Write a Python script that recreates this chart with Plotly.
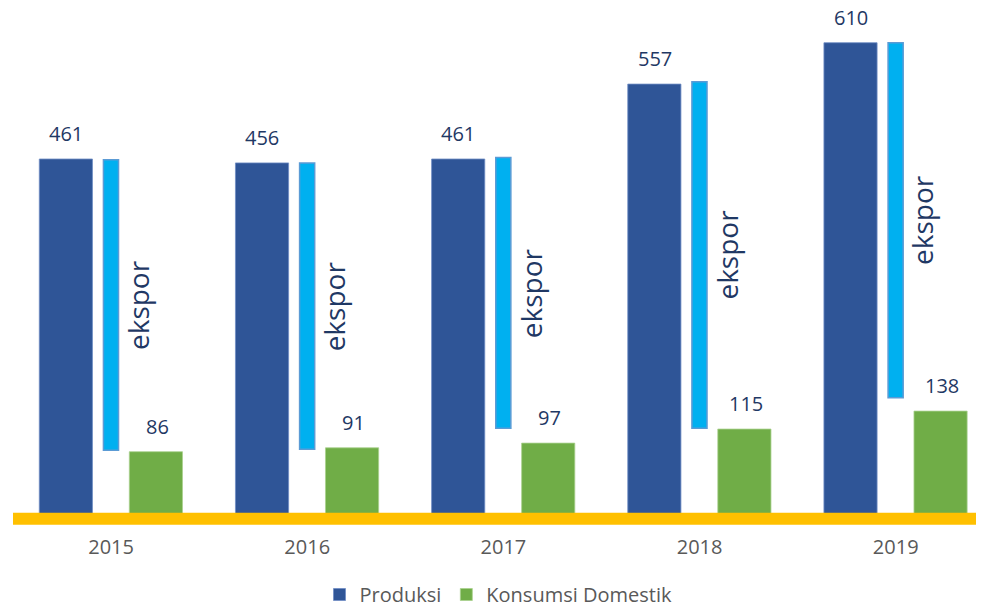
import plotly.graph_objects as go

years = ["2015", "2016", "2017", "2018", "2019"]
produksi = [461, 456, 461, 557, 610]
konsumsi = [86, 91, 97, 115, 138]
ekspor_bottom = [88, 89, 116, 116, 155]
ekspor_top = [460, 456, 463, 560, 610]

C_PROD = "#2F5597"
C_KONS = "#70AD47"
C_EKS = "#00B0F0"
C_LBL = "#1F3864"
C_AX = "#595959"
FONT = "Open Sans"

idx = list(range(len(years)))

fig = go.Figure()
fig.add_trace(go.Bar(
    x=idx, y=produksi, name="Produksi",
    marker=dict(color=C_PROD, line=dict(color="#6F8DC4", width=0.8)),
    width=0.271, offset=-0.366, hoverinfo="skip",
))
fig.add_trace(go.Bar(
    x=idx, y=[t - b for t, b in zip(ekspor_top, ekspor_bottom)], base=ekspor_bottom,
    name="ekspor", showlegend=False,
    marker=dict(color=C_EKS, line=dict(color="#5B9BD5", width=1.5)),
    width=0.077, offset=-0.039, hoverinfo="skip",
))
fig.add_trace(go.Bar(
    x=idx, y=konsumsi, name="Konsumsi Domestik",
    marker=dict(color=C_KONS, line=dict(color="#A9D18E", width=0.8)),
    width=0.271, offset=0.093, hoverinfo="skip",
))

ann = []
for i in idx:
    ann.append(dict(x=i, y=produksi[i], text=str(produksi[i]), showarrow=False,
                    xshift=-45, yshift=10, yanchor="bottom",
                    font=dict(family=FONT, size=20, color=C_LBL)))
    ann.append(dict(x=i, y=konsumsi[i], text=str(konsumsi[i]), showarrow=False,
                    xshift=46, yshift=10, yanchor="bottom",
                    font=dict(family=FONT, size=20, color=C_LBL)))
    ann.append(dict(x=i, y=(ekspor_top[i] + ekspor_bottom[i]) / 2, text="ekspor",
                    showarrow=False, textangle=-90, xshift=27,
                    font=dict(family=FONT, size=28, color=C_LBL)))

Y_TOP = 639.1
Y_BOT = -121.95
zero_frac = (0 - Y_BOT) / (Y_TOP - Y_BOT)

fig.update_layout(
    width=976, height=606,
    margin=dict(l=5, r=0, t=12, b=0),
    barmode="overlay",
    plot_bgcolor="white", paper_bgcolor="white",
    showlegend=True,
    legend=dict(orientation="h", x=0.5, xanchor="center", y=0, yanchor="bottom",
                font=dict(family=FONT, size=20, color=C_AX), traceorder="normal",
                bgcolor="rgba(0,0,0,0)"),
    xaxis=dict(range=[-0.5, 4.45], showgrid=False, zeroline=False,
               anchor="free", position=zero_frac,
               tickmode="array", tickvals=idx, ticktext=years,
               showline=False, ticks="", ticklabelstandoff=14,
               tickfont=dict(family=FONT, size=20, color=C_AX)),
    yaxis=dict(range=[Y_BOT, Y_TOP], visible=False, showgrid=False, zeroline=False),
    annotations=ann,
    shapes=[dict(type="line", xref="paper", x0=0, x1=1, yref="y", y0=0, y1=0,
                 line=dict(color="#FFC000", width=12), layer="above")],
)

fig.write_html("out.html")
